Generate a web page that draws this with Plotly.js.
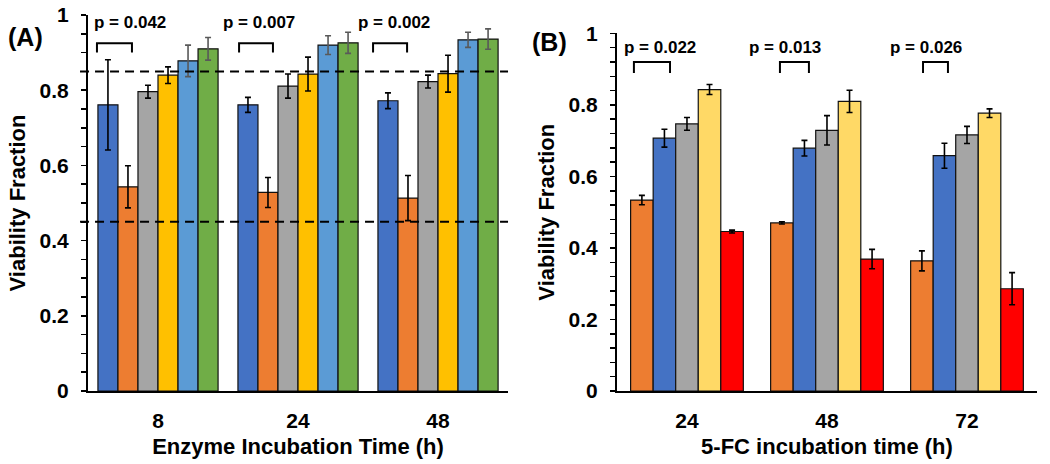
<!DOCTYPE html>
<html>
<head>
<meta charset="utf-8">
<script src="https://cdn.plot.ly/plotly-3.0.1.min.js"></script>
<style>html,body{margin:0;padding:0;background:#fff}#chart{width:1050px;height:464px}</style>
</head>
<body>
<div id="chart"></div>
<script>
// ---------- data ----------
const catsA = ['8', '24', '48'];
const catsB = ['24', '48', '72'];

// Panel A: enzyme incubation time
const aBlue      = [0.761, 0.761, 0.772];
const aBlueErr   = [0.120, 0.020, 0.021];
const aOrange    = [0.543, 0.528, 0.513];
const aOrangeErr = [0.056, 0.040, 0.060];
const aGray      = [0.796, 0.811, 0.823];
const aGrayErr   = [0.017, 0.032, 0.017];
const aYellow    = [0.840, 0.843, 0.844];
const aYellowErr = [0.022, 0.045, 0.049];
const aLBlue     = [0.878, 0.920, 0.934];
const aLBlueErr  = [0.042, 0.025, 0.020];
const aGreen     = [0.910, 0.926, 0.936];
const aGreenErr  = [0.030, 0.028, 0.027];
const refLinesA  = [0.85, 0.45];
const pTextA     = ['p = 0.042', 'p = 0.007', 'p = 0.002'];

// Panel B: 5-FC incubation time
const bOrange    = [0.534, 0.470, 0.364];
const bOrangeErr = [0.013, 0.003, 0.028];
const bBlue      = [0.707, 0.679, 0.658];
const bBlueErr   = [0.025, 0.022, 0.035];
const bGray      = [0.747, 0.729, 0.716];
const bGrayErr   = [0.018, 0.041, 0.024];
const bYellow    = [0.843, 0.810, 0.777];
const bYellowErr = [0.014, 0.031, 0.012];
const bRed       = [0.446, 0.369, 0.286];
const bRedErr    = [0.004, 0.027, 0.045];
const pTextB     = ['p = 0.022', 'p = 0.013', 'p = 0.026'];

// ---------- style ----------
const FONT = 'Liberation Sans, Arial, Helvetica, sans-serif';
const seriesA = [
  {y: aBlue,   e: aBlueErr,   c: '#4472C4', ec: '#000000'},
  {y: aOrange, e: aOrangeErr, c: '#ED7D31', ec: '#000000'},
  {y: aGray,   e: aGrayErr,   c: '#A5A5A5', ec: '#000000'},
  {y: aYellow, e: aYellowErr, c: '#FFC000', ec: '#000000'},
  {y: aLBlue,  e: aLBlueErr,  c: '#5B9BD5', ec: '#595959'},
  {y: aGreen,  e: aGreenErr,  c: '#70AD47', ec: '#595959'}
];
const seriesB = [
  {y: bOrange, e: bOrangeErr, c: '#ED7D31', ec: '#000000'},
  {y: bBlue,   e: bBlueErr,   c: '#4472C4', ec: '#000000'},
  {y: bGray,   e: bGrayErr,   c: '#A5A5A5', ec: '#000000'},
  {y: bYellow, e: bYellowErr, c: '#FFD966', ec: '#000000'},
  {y: bRed,    e: bRedErr,    c: '#FF0000', ec: '#000000'}
];

const traces = [];
const wA = 0.143;
seriesA.forEach((s, i) => {
  traces.push({
    type: 'bar', x: catsA, y: s.y, xaxis: 'x', yaxis: 'y',
    width: wA, offset: -3 * wA + i * wA,
    marker: {color: s.c, line: {color: '#111111', width: 1.2}},
    error_y: {type: 'data', array: s.e, visible: true, color: s.ec, thickness: 1.6, width: 3},
    showlegend: false, hoverinfo: 'skip'
  });
});
const wB = 0.161;
seriesB.forEach((s, i) => {
  traces.push({
    type: 'bar', x: catsB, y: s.y, xaxis: 'x2', yaxis: 'y2',
    width: wB, offset: -2.5 * wB + i * wB,
    marker: {color: s.c, line: {color: '#111111', width: 1.2}},
    error_y: {type: 'data', array: s.e, visible: true, color: s.ec, thickness: 1.6, width: 3},
    showlegend: false, hoverinfo: 'skip'
  });
});

const tickFont = {family: FONT, size: 21, color: '#000', weight: 'bold'};
const titleFont = {family: FONT, size: 22, color: '#000', weight: 'bold'};

function yAxis(domain, minorStep, anchor) {
  return {
    domain: domain, range: [0, 1], anchor: anchor,
    dtick: 0.2, tick0: 0, showgrid: false, zeroline: false,
    showline: true, linecolor: '#000', linewidth: 2,
    ticks: 'outside', ticklen: 5, tickwidth: 1.5, tickcolor: '#000',
    minor: {dtick: minorStep, ticks: 'outside', ticklen: 5, tickwidth: 1.5, tickcolor: '#000', showgrid: false},
    tickfont: tickFont, ticklabelstandoff: 8,
    title: {text: 'Viability Fraction', font: titleFont, standoff: 8}
  };
}
function xAxis(domain, anchor, title) {
  return {
    domain: domain, anchor: anchor, type: 'category', range: [-0.5, 2.5],
    showgrid: false, zeroline: false, showline: true, linecolor: '#000', linewidth: 2,
    ticks: '', tickfont: tickFont, ticklabelstandoff: 10,
    title: {text: title, font: titleFont, standoff: 7}
  };
}

// ---------- annotations / shapes ----------
const shapes = [];
const annotations = [];
refLinesA.forEach(v => {
  shapes.push({type: 'line', xref: 'paper', yref: 'y', x0: -0.0084, x1: 0.4426, y0: v, y1: v,
    line: {color: '#000', width: 2, dash: '9px,6px'}});
});
const bracketA = [[-0.436, -0.186], [-0.421, -0.179], [-0.464, -0.221]];
const textPosA = [-0.202, -0.282, -0.314];
bracketA.forEach((b, i) => {
  shapes.push({type: 'path', xref: 'x', yref: 'y',
    path: `M ${i + b[0]} 0.90 L ${i + b[0]} 0.925 L ${i + b[1]} 0.925 L ${i + b[1]} 0.90`,
    line: {color: '#000', width: 2}});
  annotations.push({xref: 'x', yref: 'y', x: i + textPosA[i], y: 0.981, text: pTextA[i], showarrow: false,
    xanchor: 'center', yanchor: 'middle',
    font: {family: FONT, size: 17, color: '#000', weight: 'bold'}});
});
const bracketB = [[-0.379, -0.121], [-0.336, -0.129], [-0.314, -0.136]];
const textPosB = [-0.193, -0.300, -0.293];
bracketB.forEach((b, i) => {
  shapes.push({type: 'path', xref: 'x2', yref: 'y2',
    path: `M ${i + b[0]} 0.889 L ${i + b[0]} 0.92 L ${i + b[1]} 0.92 L ${i + b[1]} 0.889`,
    line: {color: '#000', width: 2}});
  annotations.push({xref: 'x2', yref: 'y2', x: i + textPosB[i], y: 0.962, text: pTextB[i], showarrow: false,
    xanchor: 'center', yanchor: 'middle',
    font: {family: FONT, size: 17, color: '#000', weight: 'bold'}});
});
annotations.push({xref: 'paper', yref: 'paper', x: (25 - 88) / 949, y: (391 - 37) / 376,
  xanchor: 'center', yanchor: 'middle',
  text: '(A)', showarrow: false, font: {family: FONT, size: 25, color: '#000', weight: 'bold'}});
annotations.push({xref: 'paper', yref: 'paper', x: (549 - 88) / 949, y: (391 - 42) / 376,
  xanchor: 'center', yanchor: 'middle',
  text: '(B)', showarrow: false, font: {family: FONT, size: 25, color: '#000', weight: 'bold'}});

const layout = {
  width: 1050, height: 464,
  margin: {l: 88, r: 13, t: 15, b: 73},
  paper_bgcolor: '#fff', plot_bgcolor: '#fff',
  barmode: 'overlay',
  xaxis: xAxis([0, 0.4426], 'y', 'Enzyme Incubation Time (h)'),
  yaxis: yAxis([0, 1], 0.05, 'x'),
  xaxis2: xAxis([0.5574, 1], 'y2', '5-FC incubation time (h)'),
  yaxis2: yAxis([0, 0.951], 0.04, 'x2'),
  shapes: shapes,
  annotations: annotations,
  font: {family: FONT}
};

Plotly.newPlot('chart', traces, layout, {displayModeBar: false, staticPlot: true});
</script>
</body>
</html>
